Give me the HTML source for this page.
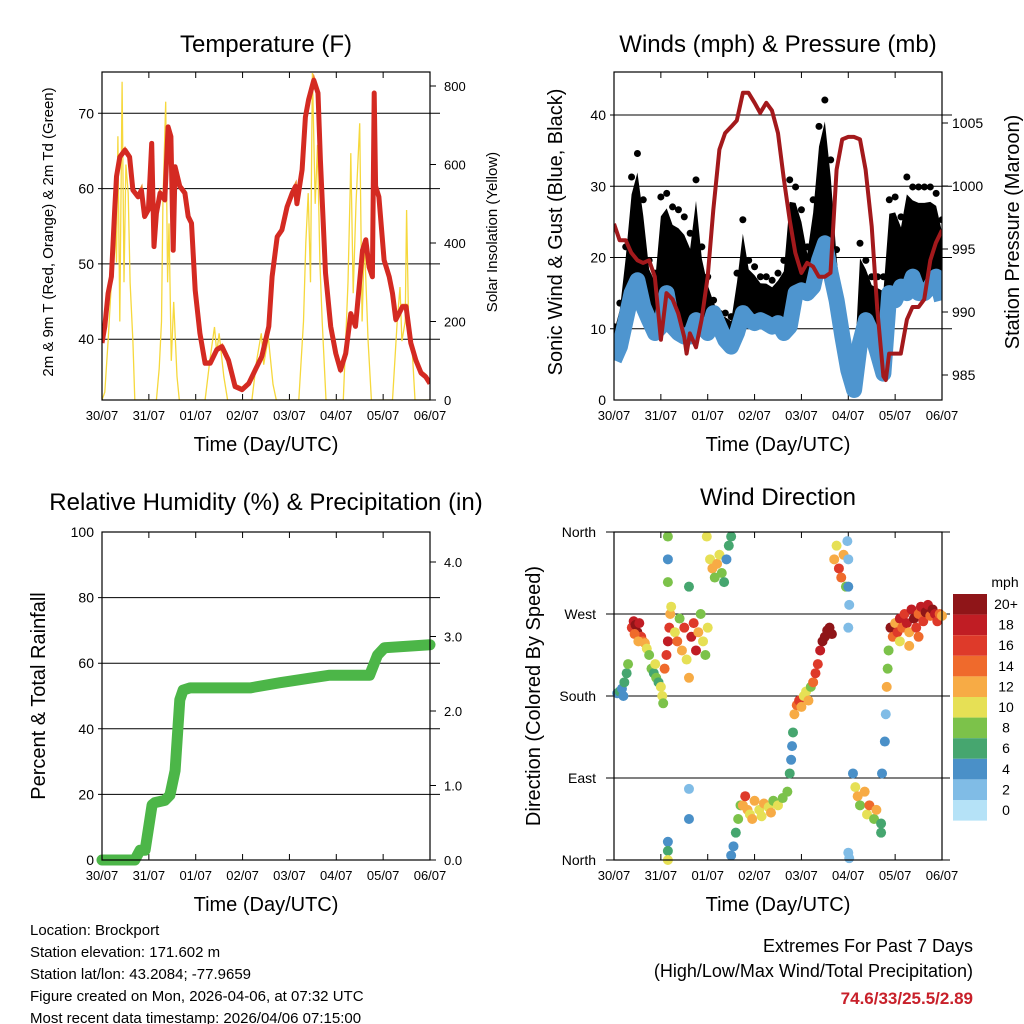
<!DOCTYPE html>
<html><head><meta charset="utf-8"><style>
body{margin:0;background:#fff;}
svg{display:block;font-family:"Liberation Sans",sans-serif;}
</style></head><body>
<svg id="s" width="1024" height="1024" viewBox="0 0 1024 1024">
<rect width="1024" height="1024" fill="#fff"/>
<g id="g"></g>
</svg>
<script>
// ---------- data ----------
const dayLabels=["30/07","31/07","01/07","02/07","03/07","04/07","05/07","06/07"];
const tempTicks=[40,50,60,70];
const solarTicks=[0,200,400,600,800];
const windTicks=[0,10,20,30,40];
const presTicks=[985,990,995,1000,1005];
const rhTicks=[0,20,40,60,80,100];
const precipTicks=["0.0","1.0","2.0","3.0","4.0"];
const dirLabels=["North","East","South","West","North"];
const tempDays=[0,.06,.13,.2,.27,.31,.38,.49,.59,.66,.77,.84,.91,.99,1.06,1.11,1.16,1.24,1.34,1.41,1.47,1.52,1.56,1.66,1.77,1.84,1.91,1.99,2.09,2.2,2.31,2.45,2.56,2.7,2.84,2.99,3.13,3.27,3.41,3.56,3.63,3.74,3.84,3.95,4.06,4.13,4.16,4.27,4.34,4.41,4.52,4.61,4.66,4.77,4.88,4.99,5.09,5.2,5.31,5.41,5.56,5.63,5.7,5.77,5.81,5.84,5.91,6.02,6.13,6.2,6.27,6.41,6.49,6.59,6.7,6.81,6.91,7];
const tempVals=[39.5,41.7,46.1,48.3,57.2,61.6,64.2,65.1,64.2,59.8,58.9,59.8,56.3,57.2,66.0,52.3,56.7,59.4,58.5,68.2,66.9,51.8,62.9,60.3,59.4,56.3,55.4,46.5,40.8,36.8,36.8,38.6,39.0,37.2,33.7,33.3,34.1,35.9,37.7,41.7,48.3,53.6,54.5,57.6,59.4,60.3,58.0,62.5,69.5,71.8,74.4,72.7,63.8,48.8,41.7,38.1,35.9,38.1,43.4,41.7,51.8,53.2,49.6,48.3,72.7,60.3,58.9,50.5,48.3,46.1,42.6,44.3,44.3,39.5,37.2,35.5,35.0,34.1];
const solarDays=[0,.06,.13,.2,.27,.31,.34,.38,.43,.47,.51,.56,.6,.66,.7,1.16,1.22,1.27,1.3,1.36,1.4,1.43,1.48,1.53,1.6,1.65,2.2,2.3,2.4,2.45,2.5,2.6,2.68,3.2,3.3,3.4,3.45,3.55,3.65,3.72,4.2,4.3,4.35,4.4,4.45,4.48,4.49,4.55,4.6,4.65,4.7,4.78,5.15,5.25,5.3,5.31,5.36,5.42,5.5,5.55,5.6,5.68,5.75,6.2,6.3,6.36,6.4,6.47,6.5,6.55,6.6,6.68,7];
const solarVals=[0,20,150,300,500,350,672,200,811,300,600,527,300,150,0,0,80,200,500,760,300,450,100,250,60,0,0,100,186,120,170,60,0,0,100,170,90,160,40,0,0,200,400,527,300,700,833,500,650,350,200,0,0,300,550,629,272,500,705,200,408,150,0,0,200,288,150,200,484,150,170,0,0];
const windDays=Array.from({length:57},(_,i)=>i/8);
const windVals=[5.6,7.5,11.2,15.0,16.8,13.1,11.2,9.4,10.3,15.0,10.3,9.4,8.9,8.9,11.2,10.3,9.4,12.2,10.3,8.4,7.5,9.4,12.2,11.2,10.8,11.2,10.8,10.3,10.8,9.4,10.3,15.0,15.4,15.0,15.9,19.6,22.0,17.8,14.0,8.9,4.2,1.4,8.0,11.2,9.4,6.6,3.7,15.0,14.0,15.9,15.0,17.3,15.0,15.0,15.9,17.3,14.0];
const gustVals=[10.3,13.6,21.5,31.3,34.6,28.1,19.6,17.8,28.5,29.0,27.1,26.7,25.7,23.4,30.9,21.5,17.3,14.0,12.2,12.2,11.7,17.8,25.3,19.6,18.7,17.3,17.3,16.8,17.8,19.6,30.9,29.9,26.7,21.5,28.1,38.4,42.1,33.7,21.1,12.6,6.6,4.2,22.0,19.6,17.3,17.3,17.3,28.1,28.5,25.7,31.3,29.9,29.9,29.9,29.9,29.0,25.3];
const presDays=[0,.12,.25,.37,.5,.62,.75,.87,1,1.12,1.25,1.37,1.5,1.55,1.62,1.75,1.87,2,2.12,2.25,2.37,2.5,2.62,2.75,2.87,3,3.12,3.25,3.37,3.5,3.62,3.75,3.87,4,4.12,4.25,4.37,4.5,4.62,4.75,4.87,5,5.12,5.25,5.37,5.5,5.62,5.75,5.8,5.87,6,6.12,6.25,6.37,6.5,6.62,6.75,6.87,7];
const presVals=[997.0,995.7,995.7,994.7,994.1,993.9,994.1,992.8,987.8,991.5,991.0,989.9,988.0,986.7,988.3,987.2,989.4,992.8,998.1,1002.9,1004.2,1004.7,1005.2,1007.4,1007.4,1006.6,1005.8,1006.6,1006.0,1004.2,1000.7,997.3,994.7,993.1,993.9,993.6,992.8,992.8,993.1,1001.3,1003.7,1003.9,1003.9,1003.7,1001.3,996.8,990.2,984.9,984.6,986.7,986.7,986.7,989.4,990.4,990.4,991.0,994.1,995.5,996.5];
const precipDays=[0,0.7,0.81,0.92,1.02,1.07,1.13,1.34,1.45,1.56,1.66,1.73,1.88,3.16,3.8,4.43,4.86,5.71,5.88,6.03,7];
const precipVals=[0,0,0.13,0.13,0.54,0.74,0.77,0.8,0.87,1.2,2.15,2.28,2.31,2.31,2.38,2.44,2.48,2.48,2.75,2.85,2.89];
const dirDays=[0.07,0.12,0.17,0.22,0.27,0.3,0.2, 0.38,0.42,0.46,0.5,0.54,0.58,0.62,0.66,0.44,0.52,0.7, 0.75,0.8,0.85,0.9,0.95,1.0,1.03,1.05,0.88, 1.08,1.12,1.15,1.18,1.2,1.22,1.15,1.15,1.15,1.15,1.15,1.15, 1.3,1.35,1.4,1.45,1.5,1.55,1.6,1.6,1.6,1.6,1.65,1.7,1.75,1.8,1.85,1.9,1.95,2.0, 1.98,2.05,2.1,2.15,2.2,2.25,2.3,2.35,2.4,2.45,2.5, 2.5,2.55,2.6,2.65,2.7, 2.75,2.8,2.85,2.9,3.0,3.1,3.2,3.3,3.4,3.5,3.6,3.7,2.95,3.15,3.35, 3.75,3.78,3.8,3.82, 3.85,3.9,3.95,4.0,4.05,4.1,4.15,4.2,4.25, 4.3,4.35,4.4,4.45,4.5,4.55,4.6,4.65, 4.7,4.75,4.8,4.85,4.9,4.95,4.98,5.0,5.0,5.02,5.0,5.0,5.02, 5.1,5.15,5.2,5.25,5.35,5.4,5.45,5.55,5.6,5.7,5.72,5.7, 5.78,5.8,5.82,5.84,5.86, 5.9,5.95,6.0,6.05,6.1,6.15,6.2,6.25,6.3,6.35,6.4,6.45,6.5,6.55,6.6,6.65,6.7,6.75,6.8,6.85,6.9,6.95,7.0,6.1,6.3,6.5];
const dirVals=[183,185,188,195,205,215,180, 255,262,258,250,260,245,240,238,248,240,232, 225,210,205,200,195,190,180,172,215, 210,225,240,255,270,278,355,330,305,20,10,0, 250,240,265,230,255,220,200,78,45,300,245,260,230,250,270,240,225,255, 355,330,320,310,325,335,315,305,330,345,355, 5,15,30,45,60, 60,70,55,50,65,55,62,58,65,60,68,75,45,48,52, 95,110,125,140, 160,170,175,168,180,185,175,190,195, 205,215,230,240,245,252,255,248, 330,345,320,310,335,300,350,330,300,280,255,8,2, 95,80,70,60,75,50,60,45,55,40,95,30, 130,160,190,210,230, 255,245,260,250,265,255,270,260,250,275,265,255,270,278,262,272,280,268,275,270,262,270,268,240,235,245];
const dirSpeeds=[4,6,4,6,6,7,3, 16,18,20,20,18,16,14,12,14,12,10, 8,8,6,8,6,10,10,8,9, 14,16,18,16,12,10,8,4,8,4,6,10, 10,14,8,12,16,10,12,2,4,6,18,16,18,12,8,10,8,10, 10,10,12,8,12,10,8,6,4,6,6, 4,4,6,8,8, 12,16,12,10,12,10,12,10,8,10,8,8,12,10,12, 6,4,4,6, 12,14,16,12,10,10,12,8,14, 16,16,18,20,20,20,20,20, 12,10,16,14,12,8,2,2,4,2,2,2,2, 4,10,12,8,12,10,14,8,12,6,4,6, 4,2,12,8,8, 20,14,12,16,18,14,16,18,12,18,20,16,14,18,16,20,18,14,20,18,16,14,12,10,12,14];
const speedLabels=["20+","18","16","14","12","10","8","6","4","2","0"];
const speedColors=["#8f1518","#c01d24","#de3a2a","#ef6a2c","#f7ab45","#e6e055","#7cc24a","#46a66f","#4a90c8","#80bce6","#b5e2f7"];

// ---------- helpers ----------
const NS="http://www.w3.org/2000/svg";const G=document.getElementById('g');
function el(t,a,p){const e=document.createElementNS(NS,t);for(const k in a)e.setAttribute(k,a[k]);(p||G).appendChild(e);return e;}
function txt(x,y,s,size,anchor,name,extra){const e=el('text',Object.assign({x:x,y:y,'font-size':size,'text-anchor':anchor||'middle',fill:'#000'},extra||{}));e.textContent=s;return e;}
function panel(x0,y0,x1,y1,name){const r=el('rect',{x:x0,y:y0,width:x1-x0,height:y1-y0,fill:'none',stroke:'#000','stroke-width':1.2});}
function xAxis(x0,x1,yb,yt,pre){const sx=d=>x0+(x1-x0)*d/7;
 dayLabels.forEach((l,i)=>{const x=sx(i);el('line',{x1:x,y1:yb,x2:x,y2:yb-6,stroke:'#000'});el('line',{x1:x,y1:yt,x2:x,y2:yt+6,stroke:'#000'});txt(x,yb+20,l,13,'middle',pre+'-x-tick-'+i);});
 txt((x0+x1)/2,yb+51,'Time (Day/UTC)',20,'middle',pre+'-x-axis-title');return sx;}
function hgrid(x0,x1,y){el('line',{x1:x0-4,y1:y,x2:x1+10,y2:y,stroke:'#000','stroke-width':1});}
function poly(xs,ys,attrs,name){const p=el('polyline',Object.assign({points:xs.map((x,i)=>x.toFixed(1)+','+ys[i].toFixed(1)).join(' '),fill:'none'},attrs));return p;}

// ---------- Panel 1: Temperature ----------
(function(){const x0=102,x1=430,y0=72,y1=400;
 const sy=T=>113.3+(70-T)*7.53, ss=v=>400-v*0.3925;
 tempTicks.forEach(t=>{hgrid(x0,x1,sy(t));txt(x0-8,sy(t)+5,String(t),14,'end','temp-y-tick-'+t);});
 solarTicks.forEach(v=>{el('line',{x1:x1,y1:ss(v),x2:x1+6,y2:ss(v),stroke:'#000'});txt(x1+14,ss(v)+5,String(v),13,'start','solar-y-tick-'+v);});
 const sx=xAxis(x0,x1,y1,y0,'temp');
 const cs=el('clipPath',{id:'c1'});el('rect',{x:x0,y:y0,width:x1-x0,height:y1-y0},cs);
 const sg=el('g',{'clip-path':'url(#c1)'});
 sg.appendChild(poly(solarDays.map(sx),solarVals.map(ss),{stroke:'#f6d83c','stroke-width':1.3},'solar-insolation-line'));
 sg.appendChild(poly(tempDays.map(sx),tempVals.map(t=>sy(t)-1.5),{stroke:'#f08a2c','stroke-width':3},'temp-9m-line'));
 sg.appendChild(poly(tempDays.map(sx),tempVals.map(sy),{stroke:'#d42a22','stroke-width':5,'stroke-linejoin':'round'},'temp-2m-line'));
 panel(x0,y0,x1,y1,'temperature-plot-area');
 txt((x0+x1)/2,52,'Temperature (F)',24,'middle','temperature-title');
 txt(0,0,'2m & 9m T (Red, Orange) & 2m Td (Green)',15,'middle','temp-y-axis-title',{transform:'translate(53,232) rotate(-90)'});
 txt(0,0,'Solar Insolation (Yellow)',15,'middle','solar-y-axis-title',{transform:'translate(497,232) rotate(-90)'});
})();

// ---------- Panel 2: Winds ----------
(function(){const x0=614,x1=942,y0=72,y1=400;
 const sy=w=>400-w*7.125, sp=p=>375-(p-985)*12.6;
 windTicks.forEach(t=>{if(t>0)hgrid(x0,x1,sy(t));txt(x0-8,sy(t)+5,String(t),14,'end','wind-y-tick-'+t);});
 presTicks.forEach(p=>{el('line',{x1:x1,y1:sp(p),x2:x1+6,y2:sp(p),stroke:'#000'});txt(x1+10,sp(p)+5,String(p),14,'start','pressure-y-tick-'+p);});
 const sx=xAxis(x0,x1,y1,y0,'wind');
 const cs=el('clipPath',{id:'c2'});el('rect',{x:x0,y:y0,width:x1-x0,height:y1-y0},cs);
 const g=el('g',{'clip-path':'url(#c2)'});
 const top=windVals.map((w,i)=>w+0.85*(gustVals[i]-w));
 const pts=windDays.map((d,i)=>sx(d)+','+sy(top[i])).concat(windDays.slice().reverse().map((d,j)=>{const i=windDays.length-1-j;return sx(d)+','+sy(windVals[i]);}));
 const band=el('polygon',{points:pts.join(' '),fill:'#000'},g);
 windDays.forEach((d,i)=>{const c=el('circle',{cx:sx(d),cy:sy(gustVals[i]),r:3.5,fill:'#000'},g);});
 g.appendChild(poly(windDays.map(sx),windVals.map(sy),{stroke:'#4e95cf','stroke-width':16,'stroke-linejoin':'round'},'sonic-wind-line'));
 g.appendChild(poly(presDays.map(sx),presVals.map(sp),{stroke:'#a3191c','stroke-width':4,'stroke-linejoin':'round'},'pressure-line'));
 panel(x0,y0,x1,y1,'winds-plot-area');
 txt((x0+x1)/2,52,'Winds (mph) & Pressure (mb)',24,'middle','winds-title');
 txt(0,0,'Sonic Wind & Gust (Blue, Black)',20,'middle','wind-y-axis-title',{transform:'translate(562,232) rotate(-90)'});
 txt(0,0,'Station Pressure (Maroon)',20,'middle','pressure-y-axis-title',{transform:'translate(1019,232) rotate(-90)'});
})();

// ---------- Panel 3: RH & Precip ----------
(function(){const x0=102,x1=430,y0=532,y1=860;
 const sy=v=>860-v*3.28, sp=v=>860-v*74.5;
 rhTicks.forEach(t=>{if(t>0&&t<100)hgrid(x0,x1,sy(t));txt(x0-8,sy(t)+5,String(t),14,'end','rh-y-tick-'+t);});
 precipTicks.forEach(p=>{el('line',{x1:x1,y1:sp(+p),x2:x1+6,y2:sp(+p),stroke:'#000'});txt(x1+14,sp(+p)+5,p,13,'start','precip-y-tick-'+p);});
 const sx=xAxis(x0,x1,y1,y0,'rh');
 poly(precipDays.map(sx),precipVals.map(sp),{stroke:'#4cb648','stroke-width':11,'stroke-linejoin':'round','stroke-linecap':'round'},'total-precip-line');
 panel(x0,y0,x1,y1,'rh-plot-area');
 txt(266,510,'Relative Humidity (%) & Precipitation (in)',24,'middle','rh-precip-title');
 txt(0,0,'Percent & Total Rainfall',20,'middle','rh-y-axis-title',{transform:'translate(45,696) rotate(-90)'});
})();

// ---------- Panel 4: Wind Direction ----------
(function(){const x0=614,x1=942,y0=532,y1=860;
 const sy=d=>860-d*328/360;
 dirLabels.forEach((l,i)=>{const y=sy(i*90);el('line',{x1:x0-8,y1:y,x2:x1+8,y2:y,stroke:'#000'});txt(x0-18,y+5,l,14,'end','direction-tick-'+i);});
 const sx=xAxis(x0,x1,y1,y0,'dir');
 const col=s=>speedColors[10-Math.min(10,Math.round(s/2))];
 dirDays.forEach((d,i)=>{const c=el('circle',{cx:sx(d),cy:sy(dirVals[i]),r:5,fill:col(dirSpeeds[i])});});
 panel(x0,y0,x1,y1,'direction-plot-area');
 txt((x0+x1)/2,505,'Wind Direction',24,'middle','direction-title');
 txt(0,0,'Direction (Colored By Speed)',20,'middle','direction-y-axis-title',{transform:'translate(540,696) rotate(-90)'});
 txt(1005,587,'mph',14,'middle','colorbar-unit');
 speedLabels.forEach((l,i)=>{const r=el('rect',{x:953,y:594+i*20.6,width:34,height:20.6,fill:speedColors[i]});
  txt(1006,609+i*20.6,l,14,'middle','colorbar-label-'+l);});
})();

// ---------- footer ----------
const info=["Location: Brockport","Station elevation: 171.602 m","Station lat/lon: 43.2084; -77.9659","Figure created on Mon, 2026-04-06, at 07:32 UTC","Most recent data timestamp: 2026/04/06 07:15:00"];
info.forEach((s,i)=>txt(30,935+i*22,s,15,'start','station-info-'+i));
txt(973,952,'Extremes For Past 7 Days',18,'end','extremes-title');
txt(973,977,'(High/Low/Max Wind/Total Precipitation)',18,'end','extremes-subtitle');
txt(973,1004,'74.6/33/25.5/2.89',17,'end','extremes-values',{fill:'#c8202a','font-weight':'bold'});
</script>
</body></html>
